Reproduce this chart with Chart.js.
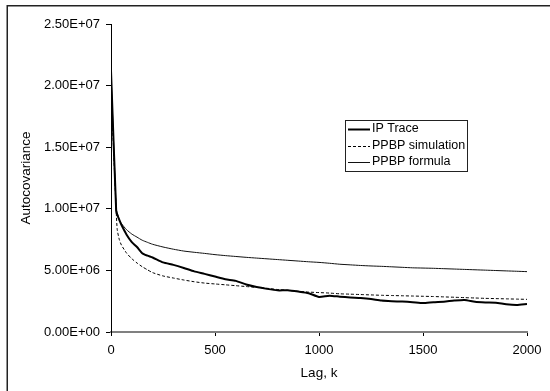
<!DOCTYPE html>
<html>
<head>
<meta charset="utf-8">
<script src="https://cdn.jsdelivr.net/npm/chart.js@4/dist/chart.umd.min.js"></script>
<style>
html,body{margin:0;padding:0;background:#fff;}
#wrap{width:550px;height:391px;position:relative;}
</style>
</head>
<body>
<div id="wrap"><canvas id="c" width="550" height="391"></canvas></div>
<script>
// Lag values (k)
const lagK = [0, 25, 30, 40, 50, 75, 100, 125, 150, 175, 200, 250, 300, 350, 400, 450, 500, 550, 600, 650, 700, 750, 800, 850, 900, 950, 1000, 1050, 1100, 1150, 1200, 1250, 1300, 1350, 1400, 1450, 1500, 1550, 1600, 1650, 1700, 1750, 1800, 1850, 1900, 1950, 2000];
// values in units of 1e6
const ipTrace = [21.2, 9.8, 9.5, 9.1, 8.7, 7.9, 7.3, 6.9, 6.4, 6.2, 6.05, 5.65, 5.45, 5.2, 4.92, 4.72, 4.5, 4.28, 4.15, 3.85, 3.65, 3.5, 3.38, 3.38, 3.28, 3.15, 2.85, 2.95, 2.87, 2.8, 2.75, 2.67, 2.55, 2.5, 2.47, 2.42, 2.35, 2.42, 2.46, 2.55, 2.6, 2.45, 2.4, 2.38, 2.25, 2.19, 2.27];
const ppbpSim = [19.8, 9.8, 8.3, 7.5, 7.06, 6.4, 5.95, 5.6, 5.3, 5.05, 4.82, 4.55, 4.38, 4.22, 4.08, 3.97, 3.9, 3.83, 3.76, 3.69, 3.62, 3.55, 3.45, 3.38, 3.3, 3.24, 3.2, 3.16, 3.1, 3.07, 3.04, 3.01, 2.98, 2.96, 2.94, 2.92, 2.9, 2.88, 2.85, 2.82, 2.79, 2.76, 2.73, 2.71, 2.69, 2.67, 2.65];
const ppbpFormula = [21.0, 10.0, 9.7, 9.1, 8.8, 8.3, 7.95, 7.7, 7.45, 7.28, 7.12, 6.9, 6.72, 6.57, 6.47, 6.38, 6.28, 6.2, 6.13, 6.06, 6.0, 5.94, 5.88, 5.82, 5.76, 5.7, 5.65, 5.58, 5.5, 5.45, 5.4, 5.36, 5.33, 5.29, 5.25, 5.21, 5.19, 5.17, 5.14, 5.11, 5.08, 5.05, 5.02, 4.99, 4.96, 4.93, 4.9];
const seriesNames = ['IP Trace', 'PPBP simulation', 'PPBP formula'];
const yTickValues = [0, 5e6, 1e7, 1.5e7, 2e7, 2.5e7];
const yTickLabels = ['0.00E+00', '5.00E+06', '1.00E+07', '1.50E+07', '2.00E+07', '2.50E+07'];
const xTickValues = [0, 500, 1000, 1500, 2000];
const xTickLabels = ['0', '500', '1000', '1500', '2000'];

const toPts = arr => lagK.map((k, i) => ({x: k, y: arr[i] * 1e6}));

const FONT = '"Liberation Sans", Arial, sans-serif';
Chart.defaults.font.family = FONT;
Chart.defaults.font.size = 13;
Chart.defaults.color = '#000';

const frame = {
  id: 'frame',
  afterDraw(chart) {
    const ctx = chart.ctx;
    ctx.save();
    ctx.strokeStyle = '#222';
    ctx.lineWidth = 1.5;
    ctx.beginPath();
    ctx.moveTo(7.25, 391);
    ctx.lineTo(7.25, 5.75);
    ctx.lineTo(550, 5.75);
    ctx.stroke();
    ctx.restore();
  }
};

const legendBox = {
  id: 'legendBox',
  afterDraw(chart) {
    const ctx = chart.ctx;
    const x0 = 345, y0 = 120, w = 122, h = 51;
    ctx.save();
    ctx.fillStyle = '#fff';
    ctx.fillRect(x0, y0, w, h);
    ctx.strokeStyle = '#222';
    ctx.lineWidth = 1;
    ctx.strokeRect(x0 + 0.5, y0 + 0.5, w, h);
    const rows = [129, 146, 162];
    chart.data.datasets.forEach((ds, i) => {
      const y = rows[i] + 0.5;
      ctx.strokeStyle = ds.borderColor;
      ctx.lineWidth = ds.borderWidth;
      ctx.setLineDash(ds.borderDash || []);
      ctx.beginPath();
      ctx.moveTo(348, y);
      ctx.lineTo(370, y);
      ctx.stroke();
      ctx.setLineDash([]);
      ctx.fillStyle = '#000';
      ctx.font = '12.5px ' + FONT;
      ctx.textBaseline = 'middle';
      ctx.textAlign = 'left';
      ctx.fillText(ds.label, 372, rows[i]);
    });
    ctx.restore();
  }
};

new Chart(document.getElementById('c'), {
  type: 'line',
  data: {
    datasets: [
      {label: seriesNames[0], data: toPts(ipTrace), borderColor: '#000', borderWidth: 2, pointRadius: 0, tension: 0.2, fill: false},
      {label: seriesNames[1], data: toPts(ppbpSim), borderColor: '#000', borderWidth: 1, borderDash: [3, 2], pointRadius: 0, tension: 0.2, fill: false},
      {label: seriesNames[2], data: toPts(ppbpFormula), borderColor: '#111', borderWidth: 1, pointRadius: 0, tension: 0.2, fill: false}
    ]
  },
  options: {
    responsive: false,
    animation: false,
    layout: {padding: {left: 10, top: 24, right: 23, bottom: 5}},
    plugins: {legend: {display: false}, tooltip: {enabled: false}},
    scales: {
      x: {
        type: 'linear', min: 0, max: 2000,
        afterBuildTicks: s => { s.ticks = xTickValues.map(v => ({value: v})); },
        afterFit: s => { s.height = 54; },
        ticks: {padding: 7, maxRotation: 0, callback: (v, i) => xTickLabels[i], font: {size: 13}},
        grid: {drawOnChartArea: false, drawTicks: true, tickLength: 4, color: '#000'},
        border: {display: true, color: '#808080', width: 2},
        title: {display: true, text: 'Lag, k', font: {size: 13.5}, padding: {top: 0, bottom: 5}}
      },
      y: {
        type: 'linear', min: 0, max: 2.5e7,
        afterBuildTicks: s => { s.ticks = yTickValues.map(v => ({value: v})); },
        afterFit: s => { s.width = 101; },
        ticks: {padding: 6, callback: (v, i) => yTickLabels[i], font: {size: 13}},
        grid: {drawOnChartArea: false, drawTicks: true, tickLength: 5, color: '#000'},
        border: {display: true, color: '#000', width: 1},
        title: {display: true, text: 'Autocovariance', font: {size: 13.5}, padding: {top: 8, bottom: 0}}
      }
    }
  },
  plugins: [frame, legendBox]
});
</script>
</body>
</html>
